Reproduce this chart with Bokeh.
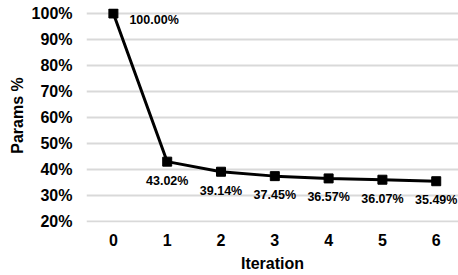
from bokeh.plotting import figure
from bokeh.models import Range1d, FixedTicker, NumeralTickFormatter, ColumnDataSource
from bokeh.core.properties import value
from bokeh.embed import file_html
from bokeh.resources import INLINE

iterations = [0, 1, 2, 3, 4, 5, 6]
params = [1.0, 0.4302, 0.3914, 0.3745, 0.3657, 0.3607, 0.3549]
labels = ["100.00%", "43.02%", "39.14%", "37.45%", "36.57%", "36.07%", "35.49%"]
y_ticks = [0.2, 0.3, 0.4, 0.5, 0.6, 0.7, 0.8, 0.9, 1.0]

FONT = "Liberation Sans"

p = figure(width=458, height=275, output_backend="svg", toolbar_location=None,
           x_range=Range1d(-0.5, 6.414), y_range=Range1d(0.19615, 1.0192),
           min_border_left=86, min_border_right=0, min_border_top=8, min_border_bottom=53)
p.outline_line_color = None
p.background_fill_color = "white"
p.border_fill_color = "white"

src = ColumnDataSource(dict(x=iterations, y=params, t=labels))
p.line("x", "y", source=src, line_color="black", line_width=3)
p.scatter("x", "y", source=src, marker="square", size=9, fill_color="black", line_color="black")

first = ColumnDataSource(dict(x=iterations[:1], y=params[:1], t=labels[:1]))
rest = ColumnDataSource(dict(x=iterations[1:], y=params[1:], t=labels[1:]))
p.text("x", "y", text="t", source=first, x_offset=16, y_offset=7,
       text_align="left", text_baseline="middle", text_font=value(FONT),
       text_font_style="bold", text_font_size="12.5px", text_color="black")
p.text("x", "y", text="t", source=rest, x_offset=0, y_offset=19,
       text_align="center", text_baseline="middle", text_font=value(FONT),
       text_font_style="bold", text_font_size="12.5px", text_color="black")

p.yaxis.ticker = FixedTicker(ticks=y_ticks)
p.yaxis.formatter = NumeralTickFormatter(format="0%")
p.xaxis.ticker = FixedTicker(ticks=iterations)

p.xgrid.grid_line_color = None
p.ygrid.grid_line_color = "#d9d9d9"
p.ygrid.grid_line_width = 2

for ax in (p.xaxis, p.yaxis):
    ax.axis_line_color = None
    ax.major_tick_line_color = None
    ax.minor_tick_line_color = None
    ax.major_tick_in = 0
    ax.major_tick_out = 0
    ax.minor_tick_in = 0
    ax.minor_tick_out = 0
    ax.major_label_text_font = FONT
    ax.major_label_text_font_style = "bold"
    ax.major_label_text_font_size = "16px"
    ax.major_label_text_color = "black"
    ax.axis_label_text_font = FONT
    ax.axis_label_text_font_style = "bold"
    ax.axis_label_text_font_size = "16px"
    ax.axis_label_text_color = "black"

p.yaxis.axis_label = "Params %"
p.yaxis.major_label_standoff = 14
p.yaxis.axis_label_standoff = 3
p.xaxis.axis_label = "Iteration"
p.xaxis.major_label_standoff = 11
p.xaxis.axis_label_standoff = 6

open("out.html", "w").write(file_html(p, INLINE))
